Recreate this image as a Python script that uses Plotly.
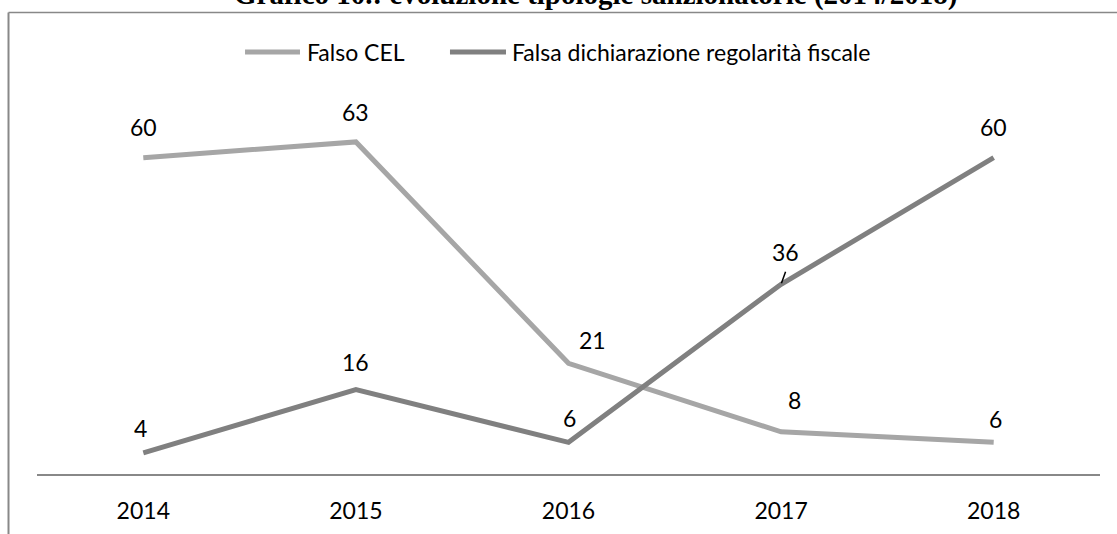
import plotly.graph_objects as go

years = ["2014", "2015", "2016", "2017", "2018"]
falso_cel = [60, 63, 21, 8, 6]
falsa_dich = [4, 16, 6, 36, 60]
series_names = ["Falso CEL", "Falsa dichiarazione regolarità fiscale"]
title_text = "Grafico 10.: evoluzione tipologie sanzionatorie (2014/2018)"

# label offsets (pixels) -- style/layout only
cel_off = [(0, 31), (0, 30), (24, 23), (13, 32), (2, 23)]
dich_off = [(-3, 25), (0, 28), (1, 24), (4, 32), (0, 31)]

c_light = "#a6a6a6"
c_dark = "#808080"
font = "Lato, 'Open Sans', sans-serif"
fs = 23

xpos = list(range(len(years)))

fig = go.Figure()
fig.add_trace(go.Scatter(x=xpos, y=falso_cel, mode="lines", name=series_names[0],
                         line=dict(color=c_light, width=5), showlegend=False,
                         text=years, hovertemplate="%{text}: %{y}<extra>" + series_names[0] + "</extra>"))
fig.add_trace(go.Scatter(x=xpos, y=falsa_dich, mode="lines", name=series_names[1],
                         line=dict(color=c_dark, width=5), showlegend=False,
                         text=years, hovertemplate="%{text}: %{y}<extra>" + series_names[1] + "</extra>"))

anns = []
for xv, yv, (dx, dy) in zip(xpos, falso_cel, cel_off):
    anns.append(dict(x=xv, y=yv, xref="x", yref="y", text=str(yv), showarrow=False,
                     xshift=dx, yshift=dy, font=dict(size=fs, color="#000", family=font)))
for xv, yv, (dx, dy) in zip(xpos, falsa_dich, dich_off):
    anns.append(dict(x=xv, y=yv, xref="x", yref="y", text=str(yv), showarrow=False,
                     xshift=dx, yshift=dy, font=dict(size=fs, color="#000", family=font)))
# leader line for the "36" label
anns.append(dict(x=xpos[3], y=falsa_dich[3], xref="x", yref="y", text="", showarrow=True,
                 arrowhead=0, arrowwidth=1.5, arrowcolor="#000", ax=5, ay=-14, standoff=1))

# Title (partly cut by the top edge)
anns.append(dict(x=0.525, y=1.250, xref="paper", yref="paper", text="<b>" + title_text + "</b>",
                 showarrow=False, xanchor="center", yanchor="bottom",
                 font=dict(size=29, color="#000", family="'Liberation Serif', 'Times New Roman', serif")))

# Manual legend
leg_y = 1.1436
anns.append(dict(x=0.2521, y=leg_y, xref="paper", yref="paper", text=series_names[0],
                 showarrow=False, xanchor="left", yanchor="middle",
                 font=dict(size=fs, color="#000", family=font)))
anns.append(dict(x=0.4450, y=leg_y, xref="paper", yref="paper", text=series_names[1],
                 showarrow=False, xanchor="left", yanchor="middle",
                 font=dict(size=fs, color="#000", family=font)))

shapes = [
    dict(type="line", xref="paper", yref="paper", x0=0.1957, x1=0.2474, y0=leg_y, y1=leg_y,
         line=dict(color=c_light, width=5)),
    dict(type="line", xref="paper", yref="paper", x0=0.3885, x1=0.4412, y0=leg_y, y1=leg_y,
         line=dict(color=c_dark, width=5)),
    # outer frame (top and left)
    dict(type="line", xref="paper", yref="paper", x0=-0.0268, x1=1.03, y0=1.2507, y1=1.2507,
         line=dict(color="#888888", width=1.5)),
    dict(type="line", xref="paper", yref="paper", x0=-0.0268, x1=-0.0268, y0=1.2507, y1=-0.2,
         line=dict(color="#888888", width=2)),
]

fig.update_layout(
    width=1117, height=534,
    margin=dict(l=37, r=17, t=105, b=60, autoexpand=False),
    paper_bgcolor="white", plot_bgcolor="white",
    showlegend=False,
    annotations=anns, shapes=shapes,
    font=dict(family=font, size=fs, color="#000"),
    xaxis=dict(range=[-0.5, len(years) - 0.5], tickmode="array", tickvals=xpos, ticktext=years,
               showline=True, linecolor="#888888", linewidth=1.5, automargin=False,
               showgrid=False, zeroline=False, ticks="", ticklabelstandoff=16,
               tickfont=dict(size=fs, color="#000", family=font), fixedrange=True),
    yaxis=dict(range=[0, 70], visible=False, showgrid=False, zeroline=False, fixedrange=True,
               automargin=False),
)

fig.write_html("out.html", config={"displayModeBar": False},
               post_script="document.body.style.margin='0';document.body.style.overflow='hidden';")
